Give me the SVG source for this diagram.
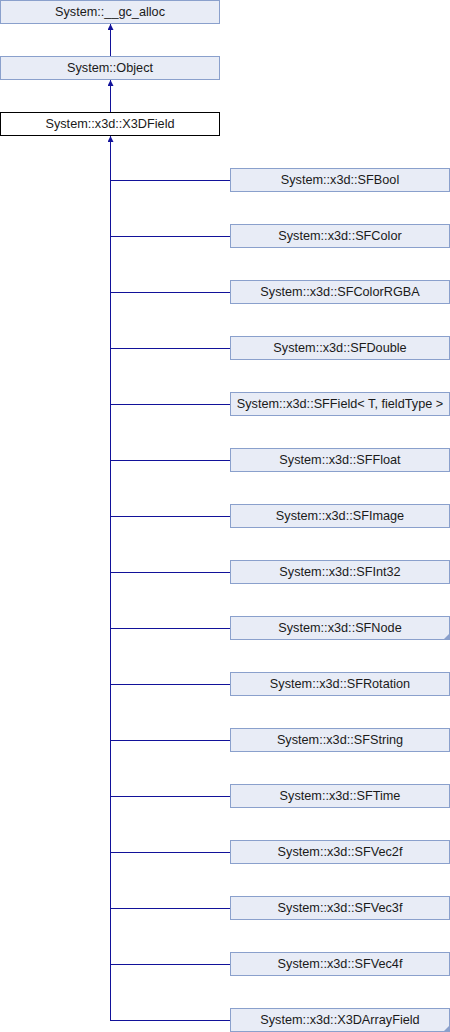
<svg xmlns="http://www.w3.org/2000/svg" width="450" height="1032" viewBox="0 0 450 1032">
<defs>
<style>
.n rect{fill:#E8ECF6;stroke:#8AA0CC;stroke-width:1}
.cur rect{fill:#FFFFFF;stroke:#000000;stroke-width:1}
text{font-family:"Liberation Sans",Arial,sans-serif;font-size:12.7px;fill:#1a1a1a;text-anchor:middle}
.c{stroke:#12129A;stroke-width:1;fill:none}
.tri{fill:#8AA0CC}
</style>
<marker id="ah" markerWidth="8" markerHeight="8" refX="6" refY="3" orient="auto" markerUnits="userSpaceOnUse">
<path d="M0,0 L6,3 L0,6 Z" fill="#12129A"/>
</marker>
</defs>
<g id="connectors">
<line class="c" x1="110.5" y1="56" x2="110.5" y2="24" marker-end="url(#ah)"/>
<line class="c" x1="110.5" y1="112" x2="110.5" y2="80" marker-end="url(#ah)"/>
<path class="c" d="M110.5,1020.5 V136" marker-end="url(#ah)"/>
<path class="c" d="M110,180.5H230M110,236.5H230M110,292.5H230M110,348.5H230M110,404.5H230M110,460.5H230M110,516.5H230M110,572.5H230M110,628.5H230M110,684.5H230M110,740.5H230M110,796.5H230M110,852.5H230M110,908.5H230M110,964.5H230M110,1020.5H230"/>
</g>
<g id="gc_alloc" class="n"><rect x="0.5" y="0.5" width="219" height="23"/><text x="110" y="16">System::__gc_alloc</text></g>
<g id="Object" class="n"><rect x="0.5" y="56.5" width="219" height="23"/><text x="110" y="72">System::Object</text></g>
<g id="X3DField" class="cur"><rect x="0.5" y="112.5" width="219" height="23"/><text x="110" y="128">System::x3d::X3DField</text></g>
<g id="SFBool" class="n"><rect x="230.5" y="168.5" width="219" height="23"/><text x="340" y="184">System::x3d::SFBool</text></g>
<g id="SFColor" class="n"><rect x="230.5" y="224.5" width="219" height="23"/><text x="340" y="240">System::x3d::SFColor</text></g>
<g id="SFColorRGBA" class="n"><rect x="230.5" y="280.5" width="219" height="23"/><text x="340" y="296">System::x3d::SFColorRGBA</text></g>
<g id="SFDouble" class="n"><rect x="230.5" y="336.5" width="219" height="23"/><text x="340" y="352">System::x3d::SFDouble</text></g>
<g id="SFField" class="n"><rect x="230.5" y="392.5" width="219" height="23"/><text x="340" y="408">System::x3d::SFField&lt; T, fieldType &gt;</text></g>
<g id="SFFloat" class="n"><rect x="230.5" y="448.5" width="219" height="23"/><text x="340" y="464">System::x3d::SFFloat</text></g>
<g id="SFImage" class="n"><rect x="230.5" y="504.5" width="219" height="23"/><text x="340" y="520">System::x3d::SFImage</text></g>
<g id="SFInt32" class="n"><rect x="230.5" y="560.5" width="219" height="23"/><text x="340" y="576">System::x3d::SFInt32</text></g>
<g id="SFNode" class="n"><rect x="230.5" y="616.5" width="219" height="23"/><path class="tri" d="M450,633 L450,640 L443,640 Z"/><text x="340" y="632">System::x3d::SFNode</text></g>
<g id="SFRotation" class="n"><rect x="230.5" y="672.5" width="219" height="23"/><text x="340" y="688">System::x3d::SFRotation</text></g>
<g id="SFString" class="n"><rect x="230.5" y="728.5" width="219" height="23"/><text x="340" y="744">System::x3d::SFString</text></g>
<g id="SFTime" class="n"><rect x="230.5" y="784.5" width="219" height="23"/><text x="340" y="800">System::x3d::SFTime</text></g>
<g id="SFVec2f" class="n"><rect x="230.5" y="840.5" width="219" height="23"/><text x="340" y="856">System::x3d::SFVec2f</text></g>
<g id="SFVec3f" class="n"><rect x="230.5" y="896.5" width="219" height="23"/><text x="340" y="912">System::x3d::SFVec3f</text></g>
<g id="SFVec4f" class="n"><rect x="230.5" y="952.5" width="219" height="23"/><text x="340" y="968">System::x3d::SFVec4f</text></g>
<g id="X3DArrayField" class="n"><rect x="230.5" y="1008.5" width="219" height="23"/><path class="tri" d="M450,1025 L450,1032 L443,1032 Z"/><text x="340" y="1024">System::x3d::X3DArrayField</text></g>
</svg>
